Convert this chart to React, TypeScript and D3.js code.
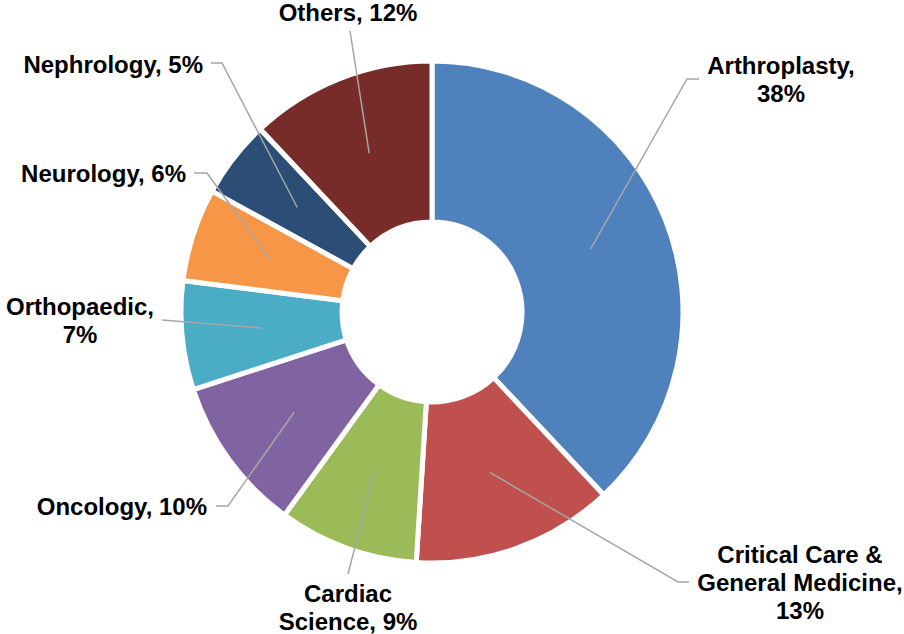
import React from 'react';
import * as d3 from 'd3';

// Slice values (percent), clockwise from 12 o'clock
const categories = ['Arthroplasty', 'Critical Care & General Medicine', 'Cardiac Science', 'Oncology', 'Orthopaedic', 'Neurology', 'Nephrology', 'Others'];
const shares = [38, 13, 9, 10, 7, 6, 5, 12];
const colors = ['#4F81BD', '#C0504D', '#9BBB59', '#8064A2', '#4BACC6', '#F79646', '#2C4D75', '#772C2A'];
// label text as lines
const labelLines = [
    ['Arthroplasty,', '38%'],
    ['Critical Care &', 'General Medicine,', '13%'],
    ['Cardiac', 'Science, 9%'],
    ['Oncology, 10%'],
    ['Orthopaedic,', '7%'],
    ['Neurology, 6%'],
    ['Nephrology, 5%'],
    ['Others, 12%'],
];

// label placement: text anchor x, first baseline y, anchor, and leader elbow
const labelLayout = [
    { x: 781, y: 74, anchor: 'middle', elbow: [[699, 79], [687, 79]] },
    { x: 800, y: 563, anchor: 'middle', elbow: [[689, 582], [678, 582]] },
    { x: 348, y: 602, anchor: 'middle', elbow: [[348, 574]] },
    { x: 207, y: 515, anchor: 'end', elbow: [[216, 506], [228, 506]] },
    { x: 80, y: 315, anchor: 'middle', elbow: [[162, 320]] },
    { x: 186, y: 182, anchor: 'end', elbow: [[194, 173], [207, 173]] },
    { x: 203, y: 73, anchor: 'end', elbow: [[211, 63], [222, 63]] },
    { x: 348, y: 21, anchor: 'middle', elbow: [[350, 31]] },
];

const width = 904;
const height = 634;
const cx = 432;
const cy = 312;
const outerR = 251;
const innerR = 90;
const lineH = 28;

export default function App() {
    const pie = d3.pie<number>().sort(null).value(d => d);
    const arcs = pie(shares);
    const arc = d3.arc<d3.PieArcDatum<number>>().innerRadius(innerR).outerRadius(outerR);
    const line = d3.line();

    return (
        <svg width={width} height={height} style={{ position: 'absolute', left: 0, top: 0, background: '#fff' }}
            fontFamily="'Liberation Sans', Arial, sans-serif">
            <g transform={`translate(${cx},${cy})`}>
                {arcs.map((a, i) => (
                    <path key={categories[i]} d={arc(a) || ''} fill={colors[i]} stroke="#fff" strokeWidth={5} />
                ))}
            </g>
            {arcs.map((a, i) => {
                const [mx, my] = arc.centroid(a);
                const lay = labelLayout[i];
                const pts = [...lay.elbow, [cx + mx, cy + my]] as [number, number][];
                return <path key={'l' + i} d={line(pts) || ''} fill="none" stroke="#A6A6A6" strokeWidth={1.5} />;
            })}
            {labelLines.map((lines, i) => {
                const lay = labelLayout[i];
                return (
                    <text key={'t' + i} x={lay.x} y={lay.y} textAnchor={lay.anchor} fontSize={24} fontWeight="bold" fill="#000">
                        {lines.map((t, j) => (
                            <tspan key={j} x={lay.x} y={lay.y + j * lineH}>{t}</tspan>
                        ))}
                    </text>
                );
            })}
        </svg>
    );
}
